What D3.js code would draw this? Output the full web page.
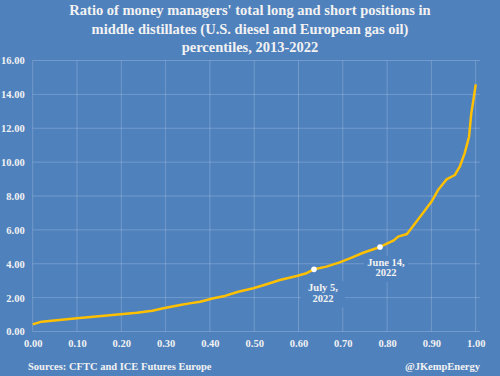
<!DOCTYPE html>
<html><head><meta charset="utf-8">
<script src="https://cdn.jsdelivr.net/npm/d3@7"></script>
<style>
html,body{margin:0;padding:0;background:#4F81BD;}
svg{display:block;}
text{font-family:"Liberation Serif","Times New Roman",serif;font-weight:bold;fill:#F2F2F2;}
</style></head>
<body>
<svg id="chart" width="500" height="376"></svg>
<script>
const titleLines = ["Ratio of money managers' total long and short positions in",
  "middle distillates (U.S. diesel and European gas oil)",
  "percentiles, 2013-2022"];
const percentiles = [0.0,0.02,0.10,0.18,0.235,0.27,0.295,0.333,0.354,0.378,0.408,0.434,0.464,0.498,0.528,0.558,0.596,0.618,0.635,0.663,0.693,0.716,0.746,0.784,0.814,0.825,0.845,0.866,0.889,0.90,0.915,0.934,0.953,0.964,0.975,0.985,0.99,0.996,1.0];
const ratios =      [0.42,0.58,0.78,0.97,1.11,1.23,1.37,1.56,1.66,1.76,1.96,2.10,2.35,2.55,2.79,3.04,3.28,3.44,3.67,3.83,4.08,4.32,4.65,4.99,5.36,5.60,5.76,6.48,7.27,7.66,8.35,8.98,9.24,9.73,10.52,11.5,12.88,13.86,14.59];
const xTicks = [0,0.1,0.2,0.3,0.4,0.5,0.6,0.7,0.8,0.9,1.0];
const yTicks = [0,2,4,6,8,10,12,14,16];
const markers = [{x:0.635,y:3.67,label:["July 5,","2022"],dx:9,dy:12},{x:0.784,y:4.99,label:["June 14,","2022"],dx:6,dy:9}];
const sourceText = "Sources: CFTC and ICE Futures Europe";
const creditText = "@JKempEnergy";

const svg = d3.select("#chart");
const x = d3.scaleLinear().domain([0,1]).range([32.7,475.7]);
const y = d3.scaleLinear().domain([0,16]).range([331.5,60.5]);
const gridColor = "rgba(255,255,255,0.2)";

// title
svg.append("text").attr("text-anchor","middle").attr("font-size",14.5)
  .selectAll("tspan").data(titleLines).join("tspan")
  .attr("x",250).attr("y",(d,i)=>15+i*18.5).text(d=>d);

// gridlines
svg.append("g").selectAll("line").data(yTicks).join("line")
  .attr("x1",x(0)).attr("x2",480).attr("y1",d=>y(d)).attr("y2",d=>y(d))
  .attr("stroke",gridColor).attr("stroke-width",1);
svg.append("g").selectAll("line").data(xTicks).join("line")
  .attr("x1",d=>x(d)).attr("x2",d=>x(d)).attr("y1",y(16)).attr("y2",y(0))
  .attr("stroke",gridColor).attr("stroke-width",1);

// axes labels
const xAxis = d3.axisBottom(x).tickValues(xTicks).tickFormat(d3.format(".2f")).tickSize(0).tickPadding(8);
const gx = svg.append("g").attr("transform",`translate(0,${y(0)})`).call(xAxis);
gx.select(".domain").remove();
gx.selectAll("text").attr("font-size",10.5).attr("fill","#F2F2F2").attr("font-family",null);
const yAxis = d3.axisLeft(y).tickValues(yTicks).tickFormat(d3.format(".2f")).tickSize(0).tickPadding(8);
const gy = svg.append("g").attr("transform",`translate(${x(0)},0)`).call(yAxis);
gy.select(".domain").remove();
gy.selectAll("text").attr("font-size",10.5).attr("fill","#F2F2F2").attr("font-family",null);

// annotation labels with background
markers.forEach(m=>{
  const g = svg.append("g");
  const cx = x(m.x) + m.dx;
  const top = y(m.y) + m.dy;
  g.append("rect").attr("x",cx-22).attr("y",top).attr("width",44).attr("height",26).attr("fill","#4F81BD");
  g.append("text").attr("text-anchor","middle").attr("font-size",10.5)
   .selectAll("tspan").data(m.label).join("tspan")
   .attr("x",cx).attr("y",(d,i)=>top+10+i*10.5).text(d=>d);
});

// line
const line = d3.line().x((d,i)=>x(percentiles[i])).y(d=>y(d));
svg.append("path").datum(ratios).attr("d",line).attr("fill","none")
  .attr("stroke","#FFC000").attr("stroke-width",2.5).attr("stroke-linejoin","round");

// markers
svg.append("g").selectAll("circle").data(markers).join("circle")
  .attr("cx",d=>x(d.x)).attr("cy",d=>y(d.y)).attr("r",2.8).attr("fill","#FFFFFF");

// footer
svg.append("text").attr("x",28).attr("y",370).attr("font-size",10.5).text(sourceText);
svg.append("text").attr("x",480).attr("y",370).attr("text-anchor","end").attr("font-size",10.5).text(creditText);
</script>
</body></html>
